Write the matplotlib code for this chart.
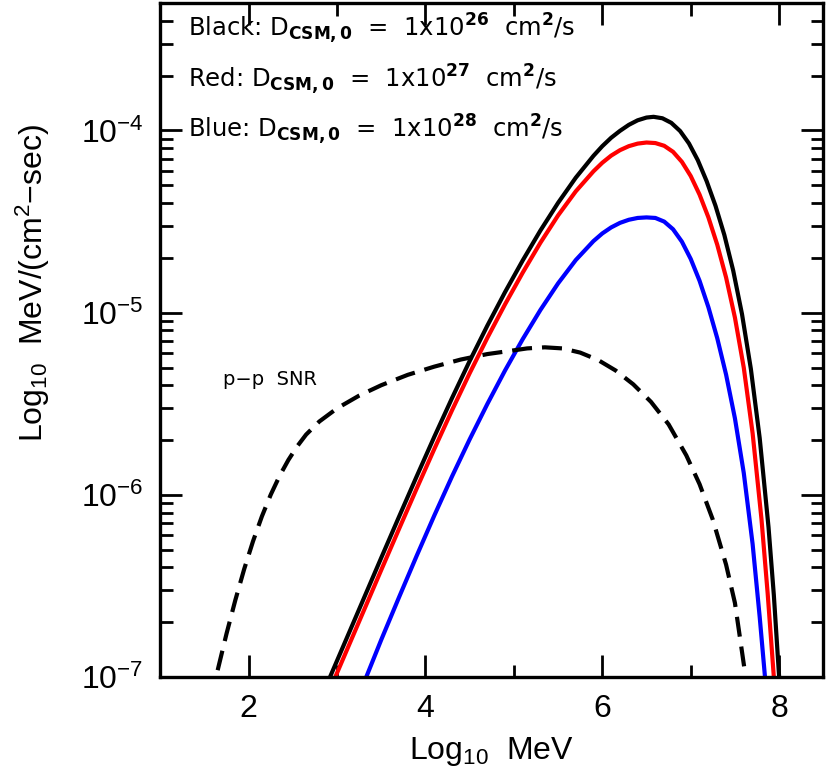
import numpy as np
import matplotlib
matplotlib.use("Agg")
import matplotlib.pyplot as plt
from matplotlib.ticker import FixedLocator, LogLocator, NullFormatter

plt.rcParams['font.family'] = ['Liberation Sans', 'DejaVu Sans']
plt.rcParams['mathtext.fontset'] = 'custom'
plt.rcParams['mathtext.rm'] = 'Liberation Sans'
plt.rcParams['mathtext.it'] = 'Liberation Sans'
plt.rcParams['mathtext.bf'] = 'Liberation Sans:bold'

# curves: x = log10 MeV, ly = log10 flux
black_x = [2.92, 3.10, 3.30, 3.50, 3.70, 3.90, 4.10, 4.30, 4.50, 4.70,
           4.90, 5.10, 5.30, 5.50, 5.70, 5.90, 6.00, 6.10, 6.20, 6.30,
           6.40, 6.50, 6.58, 6.68, 6.78, 6.88, 6.98, 7.08, 7.18, 7.28,
           7.38, 7.48, 7.58, 7.68, 7.78, 7.88, 7.94, 8.00]
black_ly = [-7.000, -6.797, -6.571, -6.345, -6.121, -5.899, -5.681, -5.469, -5.265, -5.071,
            -4.887, -4.713, -4.549, -4.397, -4.259, -4.139, -4.086, -4.040, -4.002, -3.969,
            -3.944, -3.929, -3.925, -3.933, -3.958, -4.003, -4.071, -4.163, -4.278, -4.413,
            -4.573, -4.768, -5.008, -5.308, -5.688, -6.178, -6.550, -7.000]

red_x = [2.98, 3.10, 3.30, 3.50, 3.70, 3.90, 4.10, 4.30, 4.50, 4.70,
         4.90, 5.10, 5.30, 5.50, 5.70, 5.90, 6.00, 6.10, 6.20, 6.30,
         6.40, 6.50, 6.60, 6.70, 6.80, 6.90, 7.00, 7.10, 7.20, 7.30,
         7.40, 7.50, 7.60, 7.70, 7.80, 7.87, 7.94]
red_ly = [-7.000, -6.864, -6.638, -6.412, -6.188, -5.966, -5.748, -5.536, -5.332, -5.138,
          -4.954, -4.780, -4.616, -4.466, -4.334, -4.224, -4.177, -4.138, -4.108, -4.086,
          -4.072, -4.066, -4.069, -4.084, -4.117, -4.172, -4.250, -4.352, -4.477, -4.627,
          -4.807, -5.027, -5.302, -5.662, -6.132, -6.540, -7.000]

blue_x = [3.33, 3.50, 3.70, 3.90, 4.10, 4.30, 4.50, 4.70, 4.90, 5.10,
          5.30, 5.50, 5.70, 5.90, 6.00, 6.10, 6.20, 6.30, 6.40, 6.50,
          6.60, 6.70, 6.80, 6.90, 7.00, 7.10, 7.20, 7.30, 7.40, 7.50,
          7.60, 7.70, 7.78, 7.84]
blue_ly = [-7.000, -6.795, -6.563, -6.335, -6.113, -5.899, -5.695, -5.501, -5.317, -5.145,
           -4.985, -4.839, -4.711, -4.607, -4.565, -4.532, -4.507, -4.490, -4.480, -4.477,
           -4.480, -4.500, -4.542, -4.610, -4.705, -4.825, -4.970, -5.140, -5.340, -5.580,
           -5.880, -6.270, -6.670, -7.000]

snr_x = [1.65, 1.75, 1.85, 1.95, 2.05, 2.15, 2.25, 2.35, 2.45, 2.55,
         2.65, 2.80, 3.00, 3.25, 3.50, 3.80, 4.10, 4.40, 4.70, 4.95,
         5.15, 5.35, 5.55, 5.75, 5.95, 6.15, 6.35, 6.55, 6.75, 6.95,
         7.10, 7.25, 7.40, 7.50, 7.61]
snr_ly = [-6.962, -6.762, -6.577, -6.407, -6.254, -6.118, -5.999, -5.896, -5.808, -5.733,
          -5.669, -5.597, -5.525, -5.455, -5.398, -5.341, -5.296, -5.257, -5.227, -5.210,
          -5.196, -5.190, -5.196, -5.219, -5.259, -5.317, -5.393, -5.489, -5.613, -5.783,
          -5.941, -6.136, -6.383, -6.593, -6.962]

labels = [r'Black: D$_{\mathbf{CSM,0}}$  =  1x10$^{\mathbf{26}}$  cm$^{\mathbf{2}}$/s',
          r'Red: D$_{\mathbf{CSM,0}}$  =  1x10$^{\mathbf{27}}$  cm$^{\mathbf{2}}$/s',
          r'Blue: D$_{\mathbf{CSM,0}}$  =  1x10$^{\mathbf{28}}$  cm$^{\mathbf{2}}$/s']

fig = plt.figure(figsize=(8.3, 7.81), dpi=100)
ax = fig.add_axes([0.193, 0.133, 0.799, 0.863])

ax.plot(black_x, np.power(10.0, black_ly), color='black', lw=3)
ax.plot(red_x, np.power(10.0, red_ly), color='red', lw=3)
ax.plot(blue_x, np.power(10.0, blue_ly), color='blue', lw=3)
ax.plot(snr_x, np.power(10.0, snr_ly), color='black', lw=3,
        linestyle=(0, (4.8, 2.4)), dash_capstyle='butt')

ax.set_yscale('log')
ax.set_xlim(1.0, 8.5)
ax.set_ylim(1e-7, 5e-4)

ax.xaxis.set_major_locator(FixedLocator([2, 4, 6, 8]))
ax.xaxis.set_minor_locator(FixedLocator([1, 3, 5, 7]))
ax.yaxis.set_major_locator(LogLocator(base=10, numticks=10))
ax.yaxis.set_minor_locator(LogLocator(base=10, subs=np.arange(2, 10), numticks=20))
ax.yaxis.set_minor_formatter(NullFormatter())

ax.tick_params(which='both', direction='in', top=True, right=True, width=2)
ax.tick_params(which='major', length=16, labelsize=23, pad=12)
ax.tick_params(which='minor', length=9)
for s in ax.spines.values():
    s.set_linewidth(2.4)

ax.set_xlabel(r'Log$_{10}$  MeV', fontsize=23, labelpad=8)
ax.set_ylabel(r'Log$_{10}$  MeV/(cm$^{2}$−sec)', fontsize=23)
ax.yaxis.set_label_coords(-0.163, 0.585)

for yy, txt in zip([0.950, 0.875, 0.801], labels):
    ax.text(0.042, yy, txt, transform=ax.transAxes, fontsize=17.5, va='baseline',
            family='DejaVu Sans', math_fontfamily='dejavusans')
ax.text(0.095, 0.433, 'p−p  SNR', transform=ax.transAxes, fontsize=14,
        va='baseline', family='DejaVu Sans')

fig.savefig('out.png', dpi=100)
